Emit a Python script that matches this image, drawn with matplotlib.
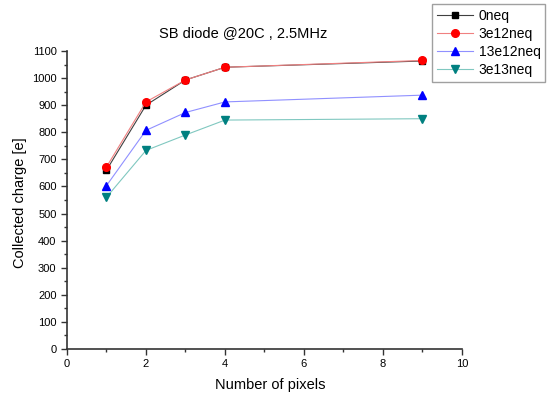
import matplotlib
matplotlib.use("Agg")
import matplotlib.pyplot as plt
from matplotlib.ticker import MultipleLocator

plt.rcParams['font.family'] = ['Liberation Sans', 'DejaVu Sans']

# data
npix = [1, 2, 3, 4, 9]
q_0neq = [660, 900, 993, 1040, 1063]
q_3e12 = [672, 912, 993, 1040, 1065]
q_13e12 = [603, 807, 873, 912, 937]
q_3e13 = [560, 733, 790, 845, 850]
labels = ["0neq", "3e12neq", "13e12neq", "3e13neq"]

fig = plt.figure(figsize=(5.49, 3.94), dpi=100)
ax = fig.add_axes([0.122, 0.1142, 0.7195, 0.7564])

ax.plot(npix, q_0neq, color="#404040", lw=0.8, marker="s", ms=4.5,
        mfc="black", mec="black", label=labels[0])
ax.plot(npix, q_3e12, color="#f08080", lw=0.8, marker="o", ms=5.5,
        mfc="red", mec="red", label=labels[1])
ax.plot(npix, q_13e12, color="#9090ff", lw=0.8, marker="^", ms=5.5,
        mfc="blue", mec="blue", label=labels[2])
ax.plot(npix, q_3e13, color="#80c8c0", lw=0.8, marker="v", ms=5.5,
        mfc="#008080", mec="#008080", label=labels[3])

ax.set_xlim(0, 10)
ax.set_ylim(0, 1100)
ax.xaxis.set_major_locator(MultipleLocator(2))
ax.xaxis.set_minor_locator(MultipleLocator(1))
ax.yaxis.set_major_locator(MultipleLocator(100))
ax.yaxis.set_minor_locator(MultipleLocator(50))
ax.spines['top'].set_visible(False)
ax.spines['right'].set_visible(False)
for s in ('left', 'bottom'):
    ax.spines[s].set_linewidth(1.2)
    ax.spines[s].set_color("#333333")
ax.tick_params(which='major', direction='out', length=4, width=1, labelsize=8, color="#333333")
ax.tick_params(which='minor', direction='out', length=2.5, width=1, color="#333333")

ax.set_xlabel("Number of pixels", fontsize=10.5)
ax.xaxis.set_label_coords(0.514, -0.097)
ax.set_ylabel("Collected charge [e]", fontsize=10.5)
ax.yaxis.set_label_coords(-0.1, 0.49)
ax.set_title("SB diode @20C , 2.5MHz", fontsize=10.5, pad=9, x=0.446)

leg = fig.legend(loc="upper left", bbox_to_anchor=(0.787, 0.99), fontsize=10,
                 frameon=True, fancybox=False, handlelength=2.6, borderaxespad=0,
                 borderpad=0.35, labelspacing=0.3, handletextpad=0.4)
leg.get_frame().set_edgecolor("#888888")
leg.get_frame().set_linewidth(1.0)

fig.savefig("out.png", dpi=100)
